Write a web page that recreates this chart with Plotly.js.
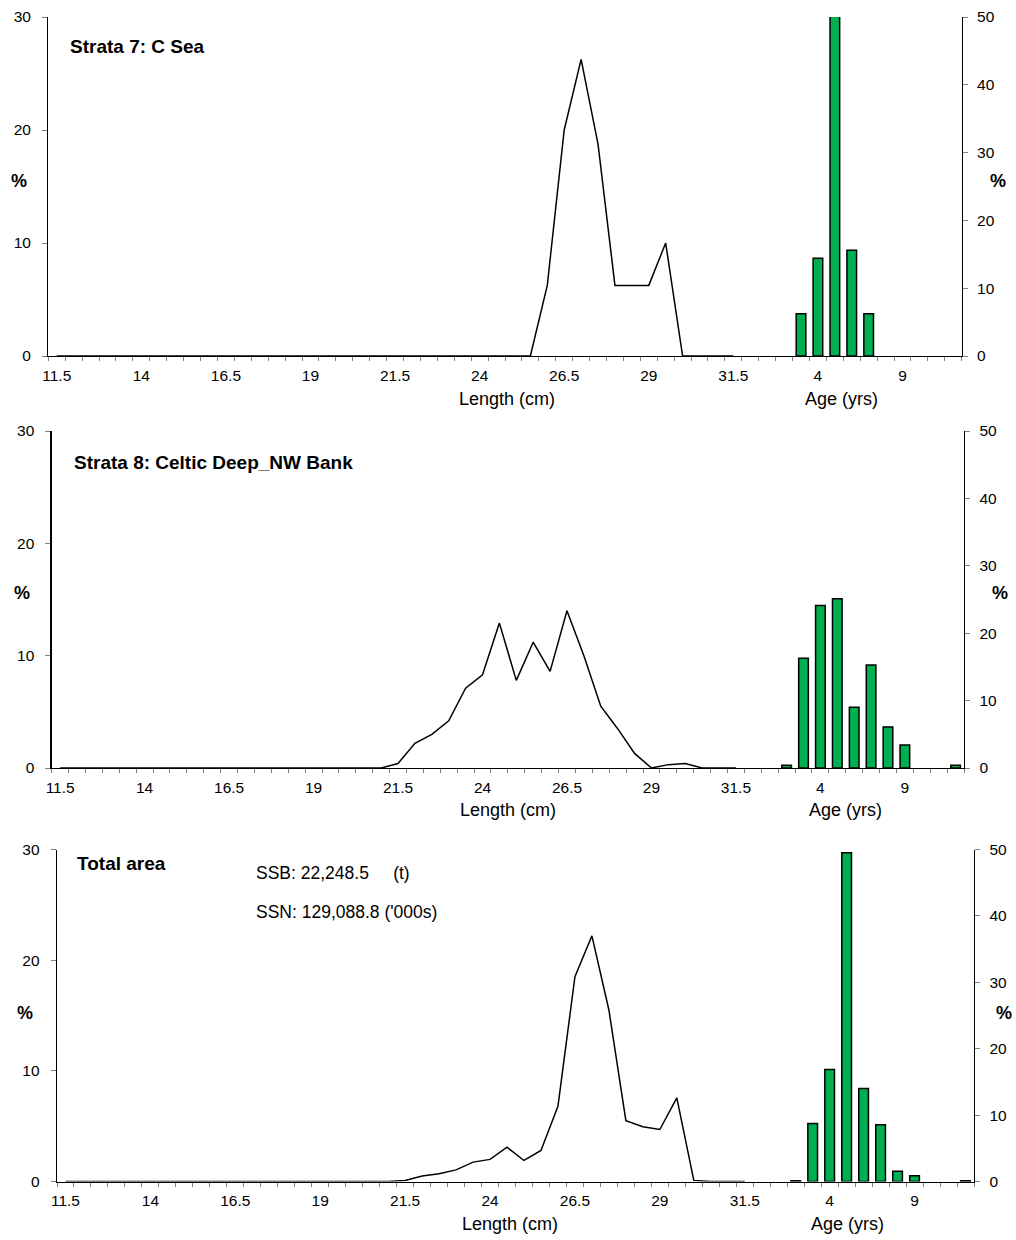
<!DOCTYPE html>
<html><head><meta charset="utf-8">
<script src="https://cdn.plot.ly/plotly-3.0.1.min.js"></script>
<style>html,body{margin:0;padding:0;background:#fff}#chart{width:1016px;height:1240px}</style>
</head><body><div id="chart"></div>
<script>
// Category labels
const lengthLabels = ["11.5","12","12.5","13","13.5","14","14.5","15","15.5","16","16.5","17","17.5","18","18.5","19","19.5","20","20.5","21","21.5","22","22.5","23","23.5","24","24.5","25","25.5","26","26.5","27","27.5","28","28.5","29","29.5","30","30.5","31","31.5"];
const ageLabels = ["0","1","2","3","4","5","6","7","8","9","10","11","12"];

// Strata 7: C Sea
const strata7Length = [0,0,0,0,0,0,0,0,0,0,0,0,0,0,0,0,0,0,0,0,0,0,0,0,0,0,0,0,0,6.25,20,26.25,18.75,6.25,6.25,6.25,10,0,0,0,0];
const strata7Age = [0,0,0,6.25,14.4,57.5,15.6,6.25,0,0,0,0,0];

// Strata 8: Celtic Deep_NW Bank
const strata8Length = [0,0,0,0,0,0,0,0,0,0,0,0,0,0,0,0,0,0,0,0,0.4,2.2,3.0,4.2,7.1,8.3,12.9,7.8,11.2,8.6,14.0,10.0,5.5,3.5,1.3,0,0.3,0.4,0,0,0];
const strata8Age = [0,0,0.4,16.3,24.1,25.1,9.0,15.3,6.1,3.4,0,0,0.4];

// Total area
const totalLength = [0,0,0,0,0,0,0,0,0,0,0,0,0,0,0,0,0,0,0,0,0.1,0.5,0.7,1.05,1.75,2.0,3.1,1.9,2.8,6.8,18.5,22.2,15.5,5.5,4.95,4.7,7.55,0.1,0,0,0];
const totalAge = [0,0,0.1,8.75,16.85,49.5,14.0,8.55,1.55,0.85,0,0,0.1];

const ssbText = "SSB: 22,248.5\u00A0\u00A0\u00A0\u00A0 (t)";
const ssnText = "SSN: 129,088.8 ('000s)";

const W = 1016, H = 1240;
const FONT = "Liberation Sans, Arial, Helvetica, sans-serif";
const TICK = 15.5;
const allLabels = lengthLabels.concat(ageLabels);
const nCat = allLabels.length;
const lenX = lengthLabels.map((_, i) => i);
const ageX = ageLabels.map((_, i) => lengthLabels.length + i);
const labelIdx = allLabels.map((_, i) => i).filter(i => i % 5 === 0);
const boundaries = [];
for (let i = 0; i <= nCat; i++) boundaries.push(i - 0.5);

const panels = [
  {len: strata7Length, age: strata7Age, x: [48.3, 961.7], y: [17, 356]},
  {len: strata8Length, age: strata8Age, x: [51.7, 964], y: [431, 768]},
  {len: totalLength, age: totalAge, x: [57, 974], y: [849.5, 1181.5]}
];

const data = [];
const layout = {
  width: W, height: H,
  margin: {l: 0, r: 0, t: 0, b: 0},
  paper_bgcolor: "#fff", plot_bgcolor: "rgba(0,0,0,0)",
  showlegend: false,
  font: {family: FONT, color: "#000", size: 14},
  annotations: []
};

panels.forEach((p, k) => {
  const xn = k === 0 ? "" : String(k + 1);
  const yl = k === 0 ? "" : String(2 * k + 1);
  const yr = String(2 * k + 2);
  data.push({
    type: "scatter", mode: "lines", x: lenX, y: p.len,
    xaxis: "x" + xn, yaxis: "y" + yl,
    line: {color: "#000", width: 1.5}, hoverinfo: "skip"
  });
  data.push({
    type: "bar", x: ageX, y: p.age.map(v => v === 0 ? null : v),
    xaxis: "x" + xn, yaxis: "y" + yr, width: 0.57,
    marker: {color: "#00B050", line: {color: "#000", width: 1.5}}, hoverinfo: "skip"
  });
  const xdom = [p.x[0] / W, p.x[1] / W];
  const ydom = [1 - p.y[1] / H, 1 - p.y[0] / H];
  layout["xaxis" + xn] = {
    domain: xdom, anchor: "y" + yl, range: [-0.5, nCat - 0.5],
    tickmode: "array", tickvals: labelIdx, ticktext: labelIdx.map(i => allLabels[i]),
    ticks: "outside", ticklen: 4, tickcolor: "rgba(0,0,0,0)",
    minor: {tickmode: "array", tickvals: boundaries, ticks: "outside", ticklen: 4, tickcolor: "#808080", tickwidth: 1, showgrid: false},
    showline: true, linecolor: "#000", linewidth: 1.3,
    showgrid: false, zeroline: false, fixedrange: true,
    tickfont: {family: FONT, size: TICK, color: "#000"}, ticklabelstandoff: 1
  };
  layout["yaxis" + yl] = {
    domain: ydom, anchor: "x" + xn, range: [0, 30],
    tickmode: "array", tickvals: [0, 10, 20, 30],
    ticks: "outside", ticklen: 5, tickcolor: "#808080",
    showline: true, linecolor: "#000", linewidth: 1.3,
    showgrid: false, zeroline: false, fixedrange: true,
    tickfont: {family: FONT, size: TICK, color: "#000"}, ticklabelstandoff: 8
  };
  layout["yaxis" + yr] = {
    overlaying: "y" + yl, side: "right", anchor: "x" + xn, range: [0, 50],
    tickmode: "array", tickvals: [0, 10, 20, 30, 40, 50],
    ticks: "outside", ticklen: 5, tickcolor: "#808080",
    showline: true, linecolor: "#000", linewidth: 1.3,
    showgrid: false, zeroline: false, fixedrange: true,
    tickfont: {family: FONT, size: TICK, color: "#000"}, ticklabelstandoff: 6
  };
});

function ann(text, px, py, opts) {
  layout.annotations.push(Object.assign({
    text: text, xref: "paper", yref: "paper", x: px / W, y: 1 - py / H,
    xanchor: "center", yanchor: "middle", showarrow: false,
    font: {family: FONT, size: 18, color: "#000"}
  }, opts || {}));
}
const bold = {family: FONT, size: 19, color: "#000"};
ann("<b>Strata 7: C Sea</b>", 68, 46, {xanchor: "left", font: bold});
ann("<b>Strata 8: Celtic Deep_NW Bank</b>", 72, 462, {xanchor: "left", font: bold});
ann("<b>Total area</b>", 75, 863, {xanchor: "left", font: bold});
ann(ssbText, 254, 873, {xanchor: "left", font: {family: FONT, size: 17.5, color: "#000"}});
ann(ssnText, 254, 912, {xanchor: "left", font: {family: FONT, size: 17.5, color: "#000"}});

const lengthTitle = "Length (cm)", ageTitle = "Age (yrs)";
[[507, 399, 841], [508, 810, 845], [510, 1224, 847]].forEach(t => {
  ann(lengthTitle, t[0], t[1]);
  ann(ageTitle, t[2], t[1]);
});
const pct = {family: FONT, size: 18, color: "#000"};
[[19, 181, 998], [22, 593, 1000], [25, 1013, 1004]].forEach(t => {
  ann("<b>%</b>", t[0], t[1], {font: pct});
  ann("<b>%</b>", t[2], t[1], {font: pct});
});

Plotly.newPlot("chart", data, layout, {staticPlot: true, displayModeBar: false});
</script>
</body></html>
